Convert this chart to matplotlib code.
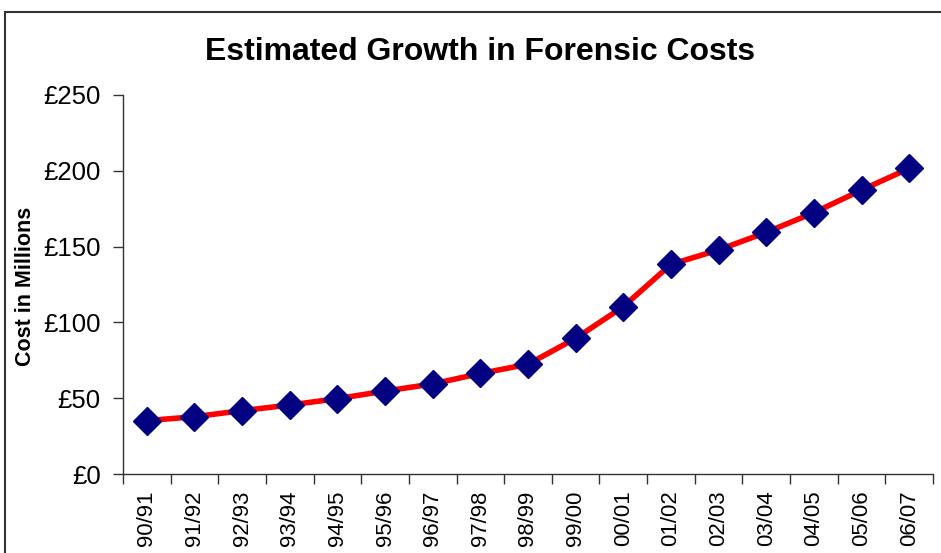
import numpy as np
import matplotlib.pyplot as plt
from matplotlib.patches import Rectangle

plt.rcParams['font.family'] = ['Liberation Sans', 'DejaVu Sans']

years = ['90/91', '91/92', '92/93', '93/94', '94/95', '95/96', '96/97', '97/98', '98/99',
         '99/00', '00/01', '01/02', '02/03', '03/04', '04/05', '05/06', '06/07']
cost = [35.2, 37.8, 41.8, 45.5, 49.7, 54.7, 59.4, 66.3, 72.4,
        89.5, 110.4, 138.3, 147.8, 159.4, 172.4, 187.3, 201.6]
yticks = [0, 50, 100, 150, 200, 250]

W, H = 941, 553
fig = plt.figure(figsize=(W / 100, H / 100), dpi=100)
ax = fig.add_axes([123 / W, 1 - 474 / H, (933 - 123) / W, (474 - 95) / H])

x = np.arange(len(years))
ax.plot(x, cost, color='#ff0000', lw=4, marker='D', ms=14,
        mfc='#000080', mec='#000080', zorder=3, clip_on=False)

ax.set_xlim(-0.5, len(years) - 0.5)
ax.set_ylim(0, 250)
ax.set_yticks(yticks)
ax.set_yticklabels(['£%d' % v for v in yticks], fontsize=18.5)

# category boundaries get the tick marks, labels sit in the middle
ax.set_xticks(np.arange(len(years) + 1) - 0.5)
ax.set_xticklabels([])
ax.set_xticks(x, minor=True)
ax.set_xticklabels(years, minor=True, rotation=90, fontsize=16)
ax.tick_params(axis='x', which='major', length=7, width=1, color='#333333')
ax.tick_params(axis='x', which='minor', length=0, pad=12)
ax.tick_params(axis='y', length=7, width=1, color='#333333', pad=9)

for s in ['top', 'right']:
    ax.spines[s].set_visible(False)
for s in ['left', 'bottom']:
    ax.spines[s].set_color('#333333')
    ax.spines[s].set_linewidth(1)

fig.text(480 / W, 1 - 52 / H, 'Estimated Growth in Forensic Costs', fontsize=23,
         fontweight='bold', ha='center', va='center')
fig.text(26 / W, 1 - 286 / H, 'Cost in Millions', fontsize=15.5, fontweight='bold',
         rotation=90, ha='center', va='center')

fig.patches.append(Rectangle((4.5 / W, -0.1), 1.2, (H - 12.5) / H + 0.1,
                             transform=fig.transFigure, fill=False,
                             edgecolor='#333333', lw=1.5))

fig.savefig('out.png', dpi=100)
